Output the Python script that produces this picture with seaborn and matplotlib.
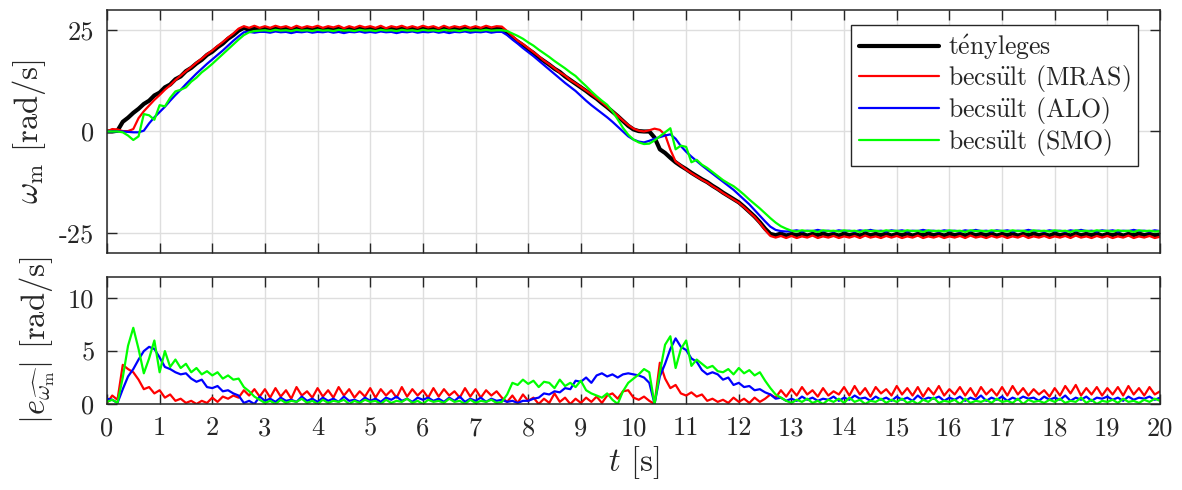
import numpy as np
import pandas as pd
import matplotlib
matplotlib.use("Agg")
import matplotlib.pyplot as plt
import seaborn as sns

# ---------------- data (0.1 s sampling) ----------------
t = np.linspace(0.0, 20.0, 201)

w_actual = [
    0.0, 0.0, 0.2, 2.4, 3.4, 4.6, 5.6, 6.8, 7.6, 8.9,
    9.6, 10.9, 11.6, 12.9, 13.6, 14.9, 15.7, 16.8, 17.7, 18.9,
    19.7, 20.8, 21.7, 22.9, 23.8, 24.9, 25.6, 25.1, 25.5, 25.0,
    25.4, 25.0, 25.5, 25.1, 25.4, 24.9, 25.5, 25.1, 25.4, 25.0,
    25.5, 25.0, 25.4, 25.1, 25.5, 24.9, 25.4, 25.0, 25.5, 25.1,
    25.4, 25.0, 25.5, 24.9, 25.4, 25.1, 25.5, 25.0, 25.4, 25.0,
    25.5, 25.1, 25.4, 24.9, 25.5, 25.0, 25.4, 25.1, 25.5, 25.0,
    25.4, 25.0, 25.5, 25.1, 25.4, 25.2, 24.3, 23.2, 22.2, 21.3,
    20.3, 19.4, 18.3, 17.4, 16.5, 15.5, 14.7, 13.6, 12.7, 11.8,
    10.9, 10.0, 9.0, 8.1, 7.0, 6.0, 4.9, 3.8, 2.6, 1.4,
    0.5, 0.1, 0.0, 0.0, -1.5, -4.4, -5.3, -6.5, -7.6, -8.5,
    -9.3, -10.2, -11.0, -11.8, -12.5, -13.4, -14.2, -15.1, -15.9, -16.7,
    -17.5, -18.6, -19.8, -21.0, -22.4, -24.0, -25.3, -25.6, -25.2, -25.7,
    -25.3, -25.6, -25.2, -25.7, -25.3, -25.6, -25.2, -25.6, -25.3, -25.7,
    -25.2, -25.6, -25.3, -25.7, -25.2, -25.6, -25.3, -25.6, -25.2, -25.7,
    -25.3, -25.6, -25.2, -25.7, -25.3, -25.6, -25.2, -25.6, -25.3, -25.7,
    -25.2, -25.6, -25.3, -25.7, -25.2, -25.6, -25.3, -25.6, -25.2, -25.7,
    -25.3, -25.6, -25.2, -25.7, -25.3, -25.6, -25.2, -25.6, -25.3, -25.7,
    -25.2, -25.6, -25.3, -25.7, -25.2, -25.6, -25.3, -25.6, -25.2, -25.7,
    -25.3, -25.6, -25.2, -25.7, -25.3, -25.6, -25.2, -25.6, -25.3, -25.7,
    -25.4,
]

w_mras = [
    0.0, 0.6, 0.5, 0.1, 0.1, 0.6, 3.3, 5.0, 6.4, 7.8,
    9.0, 10.3, 11.4, 12.7, 13.8, 14.9, 15.9, 17.0, 18.0, 19.1,
    20.0, 21.1, 22.1, 23.2, 24.2, 25.4, 26.0, 25.6, 26.1, 25.6,
    26.0, 25.6, 26.1, 25.7, 26.0, 25.5, 26.1, 25.6, 26.0, 25.7,
    26.1, 25.6, 26.0, 25.7, 26.1, 25.5, 26.0, 25.6, 26.1, 25.7,
    26.0, 25.6, 26.1, 25.5, 26.0, 25.7, 26.1, 25.6, 26.0, 25.6,
    26.1, 25.7, 26.0, 25.5, 26.1, 25.6, 26.0, 25.7, 26.1, 25.6,
    26.0, 25.6, 26.1, 25.7, 26.0, 25.9, 24.8, 23.6, 22.4, 21.6,
    20.6, 19.6, 18.6, 17.5, 16.6, 15.6, 14.6, 13.8, 12.7, 11.9,
    11.0, 10.1, 9.2, 8.2, 7.2, 6.1, 5.0, 3.9, 2.7, 1.6,
    0.7, 0.2, 0.0, 0.3, 0.7, 0.4, -0.8, -4.5, -7.4, -8.4,
    -9.4, -10.3, -11.1, -11.9, -12.6, -13.5, -14.3, -15.2, -16.0, -16.8,
    -17.6, -18.7, -19.9, -21.1, -22.6, -24.3, -25.8, -26.2, -25.8, -26.3,
    -25.8, -26.3, -25.9, -26.2, -25.7, -26.3, -25.9, -26.2, -25.8, -26.3,
    -25.9, -26.2, -25.8, -26.3, -25.7, -26.2, -25.9, -26.3, -25.8, -26.2,
    -25.8, -26.3, -25.9, -26.2, -25.7, -26.3, -25.9, -26.2, -25.8, -26.3,
    -25.9, -26.2, -25.8, -26.3, -25.7, -26.2, -25.9, -26.3, -25.8, -26.2,
    -25.8, -26.3, -25.9, -26.2, -25.7, -26.3, -25.9, -26.2, -25.8, -26.3,
    -25.9, -26.2, -25.8, -26.3, -25.7, -26.2, -25.9, -26.3, -25.8, -26.2,
    -25.8, -26.3, -25.9, -26.2, -25.7, -26.3, -25.9, -26.2, -25.8, -26.3,
    -26.0,
]

w_alo = [
    0.0, 0.0, 0.0, 0.0, -0.1, -0.2, -0.2, 0.2, 2.0, 3.5,
    4.8, 6.1, 7.6, 9.0, 10.3, 11.7, 13.0, 14.3, 15.5, 16.7,
    17.8, 18.9, 20.0, 21.2, 22.4, 23.5, 24.5, 24.6, 24.4, 24.6,
    24.6, 24.4, 24.7, 24.5, 24.6, 24.3, 24.6, 24.5, 24.7, 24.4,
    24.6, 24.5, 24.7, 24.4, 24.6, 24.3, 24.6, 24.5, 24.7, 24.4,
    24.6, 24.4, 24.7, 24.5, 24.6, 24.3, 24.6, 24.5, 24.7, 24.4,
    24.6, 24.5, 24.7, 24.4, 24.6, 24.3, 24.6, 24.5, 24.7, 24.4,
    24.6, 24.5, 24.7, 24.4, 24.6, 24.6, 23.8, 22.7, 21.7, 20.6,
    19.6, 18.6, 17.5, 16.4, 15.3, 14.2, 13.1, 12.0, 11.0, 10.0,
    8.8, 7.6, 6.5, 5.5, 4.5, 3.5, 2.4, 1.2, 0.0, -1.2,
    -2.0, -2.5, -2.7, -2.3, -1.8, -1.4, -1.0, -0.7, -1.8, -3.6,
    -5.0, -6.2, -7.3, -8.4, -9.4, -10.4, -11.4, -12.4, -13.4, -14.4,
    -15.6, -16.8, -18.0, -19.4, -20.8, -22.2, -23.5, -24.3, -24.6, -24.7,
    -24.6, -24.4, -24.7, -24.5, -24.6, -24.3, -24.6, -24.5, -24.7, -24.4,
    -24.6, -24.5, -24.7, -24.4, -24.6, -24.3, -24.6, -24.5, -24.7, -24.4,
    -24.6, -24.4, -24.7, -24.5, -24.6, -24.3, -24.6, -24.5, -24.7, -24.4,
    -24.6, -24.5, -24.7, -24.4, -24.6, -24.3, -24.6, -24.5, -24.7, -24.4,
    -24.6, -24.4, -24.7, -24.5, -24.6, -24.3, -24.6, -24.5, -24.7, -24.4,
    -24.6, -24.5, -24.7, -24.4, -24.6, -24.3, -24.6, -24.5, -24.7, -24.4,
    -24.6, -24.4, -24.7, -24.5, -24.6, -24.3, -24.6, -24.5, -24.7, -24.4,
    -24.6,
]

w_smo = [
    0.0, 0.0, 0.0, -0.2, -1.0, -2.1, -1.2, 4.3, 4.0, 2.9,
    6.5, 6.2, 8.3, 9.9, 10.3, 10.9, 12.3, 13.3, 14.6, 15.6,
    16.7, 17.9, 19.1, 20.3, 21.5, 22.7, 23.8, 24.5, 24.8, 24.9,
    25.0, 24.8, 25.1, 24.9, 25.0, 24.8, 25.1, 24.9, 25.0, 24.8,
    25.1, 24.9, 25.0, 24.8, 25.1, 24.9, 25.0, 24.8, 25.1, 24.9,
    25.0, 24.8, 25.1, 24.9, 25.0, 24.8, 25.1, 24.9, 25.0, 24.8,
    25.1, 24.9, 25.0, 24.8, 25.1, 24.9, 25.0, 24.8, 25.1, 24.9,
    25.0, 24.9, 25.1, 24.9, 25.0, 25.0, 24.8, 24.2, 23.6, 22.9,
    22.0, 21.2, 20.2, 19.3, 18.4, 17.4, 16.5, 15.6, 14.6, 13.7,
    12.4, 11.2, 9.9, 8.7, 7.6, 6.6, 5.0, 3.0, 0.9, -0.8,
    -2.0, -2.7, -3.1, -3.0, -2.2, -1.2, -0.2, 0.8, -4.4, -3.5,
    -3.8, -7.6, -7.0, -8.2, -9.0, -10.0, -11.0, -12.0, -12.8, -13.5,
    -14.5, -15.6, -16.8, -17.9, -19.0, -20.2, -21.4, -22.5, -23.4, -24.0,
    -24.5, -24.7, -24.4, -24.6, -24.5, -24.8, -24.4, -24.6, -24.5, -24.7,
    -24.4, -24.6, -24.5, -24.8, -24.4, -24.6, -24.5, -24.7, -24.4, -24.6,
    -24.5, -24.7, -24.4, -24.6, -24.5, -24.8, -24.4, -24.6, -24.5, -24.7,
    -24.4, -24.6, -24.5, -24.8, -24.4, -24.6, -24.5, -24.7, -24.4, -24.6,
    -24.5, -24.7, -24.4, -24.6, -24.5, -24.8, -24.4, -24.6, -24.5, -24.7,
    -24.4, -24.6, -24.5, -24.8, -24.4, -24.6, -24.5, -24.7, -24.4, -24.6,
    -24.5, -24.7, -24.4, -24.6, -24.5, -24.8, -24.4, -24.6, -24.5, -24.7,
    -24.6,
]

err_mras = [
    0.1, 0.8, 0.4, 3.7, 3.3, 3.0, 2.3, 1.4, 1.6, 1.0,
    1.3, 0.6, 0.9, 0.3, 0.5, 0.1, 0.3, 0.0, 0.3, 0.1,
    0.6, 0.2, 0.7, 0.5, 0.8, 0.6, 1.3, 0.8, 1.4, 0.7,
    1.4, 0.6, 1.5, 0.7, 1.3, 0.5, 1.6, 0.8, 1.2, 0.6,
    1.5, 0.7, 1.3, 0.6, 1.6, 0.8, 1.4, 0.6, 1.2, 0.7,
    1.5, 0.6, 1.4, 0.8, 1.3, 0.6, 1.6, 0.7, 1.4, 0.8,
    1.3, 0.6, 1.5, 0.7, 1.4, 0.8, 1.2, 0.6, 1.5, 0.7,
    1.4, 0.6, 1.3, 0.8, 1.2, 0.6, 0.2, 0.8, 0.1, 0.9,
    0.3, 0.6, 0.0, 0.5, 0.1, 1.0, 0.2, 0.6, 0.0, 0.5,
    0.1, 0.6, 0.2, 0.7, 0.1, 0.8, 1.0, 0.5, 1.2, 1.3,
    0.6, 0.4, 0.7, 0.3, 0.0, 3.9, 2.4, 1.5, 1.8, 1.0,
    0.8, 1.1, 0.7, 0.9, 0.3, 0.5, 0.2, 0.4, 0.1, 0.6,
    0.2, 0.5, 0.1, 0.6, 0.2, 0.5, 0.9, 0.6, 1.3, 0.7,
    1.4, 0.8, 1.6, 0.9, 1.3, 0.7, 1.5, 0.8, 1.2, 0.9,
    1.6, 0.8, 1.7, 0.9, 1.5, 0.7, 1.6, 1.0, 1.4, 0.8,
    1.7, 0.9, 1.5, 0.8, 1.6, 0.7, 1.5, 0.9, 1.7, 0.8,
    1.4, 0.9, 1.6, 0.8, 1.5, 0.7, 1.6, 0.9, 1.4, 0.8,
    1.6, 0.8, 1.7, 0.9, 1.5, 0.8, 1.4, 0.9, 1.3, 0.7,
    1.5, 0.8, 1.7, 1.0, 1.8, 0.8, 1.5, 0.9, 1.6, 0.8,
    1.5, 0.9, 1.6, 0.8, 1.7, 0.9, 1.5, 0.8, 1.6, 0.9,
    1.2,
]

err_alo = [
    0.5, 0.4, 0.1, 1.4, 2.6, 3.3, 4.2, 5.0, 5.4, 5.2,
    4.4, 3.5, 3.3, 3.0, 2.8, 2.9, 2.4, 2.1, 2.3, 1.6,
    1.5, 1.7, 1.2, 1.3, 1.0, 0.8, 0.1, 0.3, 0.0, 0.7,
    0.3, 0.5, 0.2, 0.6, 0.3, 0.4, 0.2, 0.7, 0.3, 0.5,
    0.2, 0.6, 0.3, 0.5, 0.2, 0.7, 0.3, 0.4, 0.2, 0.6,
    0.3, 0.5, 0.2, 0.6, 0.4, 0.7, 0.3, 0.5, 0.2, 0.6,
    0.4, 0.6, 0.3, 0.5, 0.2, 0.6, 0.3, 0.7, 0.2, 0.5,
    0.3, 0.6, 0.2, 0.5, 0.3, 0.4, 0.2, 0.3, 0.1, 0.3,
    0.3, 0.5, 0.6, 1.0, 0.9, 1.2, 1.1, 1.5, 1.4, 2.2,
    2.1, 2.5, 2.0, 2.7, 2.9, 2.6, 2.8, 2.5, 2.8, 2.9,
    2.8, 2.7, 2.5, 2.0, 0.0, 2.6, 3.8, 5.2, 6.2, 5.4,
    5.1, 4.3, 4.0, 3.2, 2.8, 3.0, 2.8, 2.3, 2.5, 1.8,
    2.0, 1.6, 1.7, 1.3, 1.4, 1.1, 0.9, 0.5, 0.6, 0.3,
    0.5, 0.3, 0.7, 0.4, 0.6, 0.3, 0.5, 0.4, 0.7, 0.3,
    0.6, 0.4, 0.8, 0.5, 0.6, 0.3, 0.7, 0.4, 0.6, 0.3,
    0.7, 0.4, 0.6, 0.3, 0.8, 0.4, 0.6, 0.5, 0.7, 0.3,
    0.6, 0.4, 0.7, 0.3, 0.6, 0.4, 0.8, 0.3, 0.6, 0.4,
    0.7, 0.3, 0.6, 0.4, 0.7, 0.5, 0.6, 0.3, 0.7, 0.4,
    0.6, 0.4, 0.8, 0.3, 0.6, 0.4, 0.7, 0.3, 0.6, 0.5,
    0.7, 0.4, 0.6, 0.3, 0.7, 0.4, 0.6, 0.5, 0.7, 0.4,
    0.6,
]

err_smo = [
    0.2, 0.4, 0.1, 2.5, 5.5, 7.2, 5.2, 2.9, 4.3, 6.0,
    3.0, 5.0, 3.5, 4.2, 3.4, 3.8, 3.0, 3.4, 2.8, 3.1,
    2.7, 3.0, 2.4, 2.7, 2.3, 2.4, 1.6, 1.2, 0.7, 0.4,
    0.1, 0.3, 0.0, 0.4, 0.1, 0.3, 0.2, 0.5, 0.1, 0.3,
    0.0, 0.4, 0.1, 0.3, 0.2, 0.4, 0.0, 0.3, 0.1, 0.4,
    0.2, 0.3, 0.0, 0.4, 0.1, 0.3, 0.2, 0.5, 0.1, 0.3,
    0.0, 0.4, 0.2, 0.3, 0.1, 0.5, 0.2, 0.3, 0.0, 0.4,
    0.1, 0.3, 0.2, 0.4, 0.1, 0.2, 0.9, 2.0, 1.8, 2.3,
    1.9, 2.2, 1.6, 2.1, 2.0, 1.5, 2.3, 1.7, 2.0, 1.6,
    2.2, 1.3, 1.0, 0.8, 0.6, 1.0, 0.4, 0.0, 1.2, 2.0,
    2.4, 2.8, 3.3, 3.0, 0.0, 3.0, 5.6, 6.4, 3.4, 5.2,
    6.0, 3.6, 4.2, 3.8, 3.4, 3.6, 3.1, 3.0, 3.3, 2.8,
    3.4, 2.9, 3.2, 2.7, 3.0, 2.2, 1.5, 0.9, 0.6, 0.3,
    0.1, 0.4, 0.2, 0.5, 0.1, 0.3, 0.0, 0.4, 0.2, 0.5,
    0.1, 0.6, 0.2, 0.4, 0.0, 0.3, 0.2, 0.5, 0.1, 0.4,
    0.2, 0.5, 0.1, 0.3, 0.0, 0.4, 0.2, 0.6, 0.1, 0.3,
    0.2, 0.4, 0.0, 0.5, 0.1, 0.3, 0.2, 0.4, 0.1, 0.5,
    0.2, 0.3, 0.1, 0.5, 0.0, 0.4, 0.2, 0.3, 0.1, 0.4,
    0.2, 0.5, 0.1, 0.3, 0.2, 0.6, 0.1, 0.4, 0.0, 0.3,
    0.2, 0.4, 0.1, 0.5, 0.2, 0.3, 0.1, 0.4, 0.2, 0.5,
    0.3,
]

labels = [r"t$\acute{\mathrm{e}}$nyleges",
          r"becs$\ddot{\mathrm{u}}$lt (MRAS)",
          r"becs$\ddot{\mathrm{u}}$lt (ALO)",
          r"becs$\ddot{\mathrm{u}}$lt (SMO)"]
colors = ["#000000", "#ff0000", "#0000ff", "#00ff00"]
x_ticks = list(range(0, 21))
y_ticks_top = [-25, 0, 25]
y_ticks_bot = [0, 5, 10]

# ---------------- style ----------------
sns.set_theme(style="whitegrid")
plt.rcParams.update({
    "font.family": ["cmr10", "DejaVu Serif"],
    "mathtext.fontset": "cm",
    "axes.unicode_minus": False,
    "axes.formatter.use_mathtext": True,
    "font.size": 19,
    "axes.edgecolor": "#262626",
    "axes.linewidth": 1.1,
    "grid.color": "#dedede",
    "grid.linewidth": 1.0,
    "xtick.direction": "in",
    "ytick.direction": "in",
    "xtick.color": "#262626",
    "ytick.color": "#262626",
    "xtick.labelcolor": "#262626",
    "ytick.labelcolor": "#262626",
    "text.color": "#262626",
    "axes.labelcolor": "#262626",
})

fig = plt.figure(figsize=(11.82, 4.90), dpi=100)
ax1 = fig.add_axes([0.0905, 0.4837, 0.8909, 0.4959])
ax2 = fig.add_axes([0.0905, 0.1755, 0.8909, 0.2592])

top_df = pd.DataFrame({"t": t, "a": w_actual, "m": w_mras, "l": w_alo, "s": w_smo})
bot_df = pd.DataFrame({"t": t, "m": err_mras, "l": err_alo, "s": err_smo})

for key, lab, col, lw in zip(["a", "m", "l", "s"], labels, colors, [3.0, 1.6, 1.6, 1.6]):
    sns.lineplot(data=top_df, x="t", y=key, ax=ax1, color=col, lw=lw, label=lab,
                 estimator=None, sort=False)
for key, col in zip(["m", "l", "s"], colors[1:]):
    sns.lineplot(data=bot_df, x="t", y=key, ax=ax2, color=col, lw=1.6,
                 estimator=None, sort=False, legend=False)

for ax in (ax1, ax2):
    ax.set_xlim(0, 20)
    ax.set_xticks(x_ticks)
    ax.tick_params(axis="both", which="both", direction="in", length=7, width=1.0,
                   top=True, right=True, bottom=True, left=True, labelsize=19)
    ax.tick_params(axis="x", pad=9)
    ax.tick_params(axis="y", pad=9)
    ax.grid(True, which="major")
    for sp in ax.spines.values():
        sp.set_visible(True)
        sp.set_color("#262626")

LABEL_FS = 23.5
ax1.set_ylim(-30, 30)
ax1.set_yticks(y_ticks_top)
ax1.set_yticklabels([str(v) for v in y_ticks_top])
ax1.tick_params(axis="x", labelbottom=False)
ax1.set_xlabel("")
ax1.set_ylabel(r"$\omega_\mathrm{m}$ [rad/s]", fontsize=LABEL_FS, labelpad=8)

ax2.set_ylim(0, 12)
ax2.set_yticks(y_ticks_bot)
ax2.set_yticklabels([str(v) for v in y_ticks_bot])
ax2.set_xticklabels([str(v) for v in x_ticks])
ax2.set_xlabel(r"$t$ [s]", fontsize=LABEL_FS, labelpad=3)
ax2.set_ylabel(r"$|e_{\widehat{\omega_\mathrm{m}}}|$ [rad/s]", fontsize=LABEL_FS, labelpad=8)

fig.align_ylabels([ax1, ax2])

leg = ax1.legend(loc="upper right", bbox_to_anchor=(0.979, 0.94), fontsize=18.5,
                 frameon=True, fancybox=False, framealpha=1.0, edgecolor="#262626",
                 handlelength=3.1, handletextpad=0.35, labelspacing=0.05,
                 borderpad=0.3, borderaxespad=0.0)
leg.get_frame().set_linewidth(1.0)

fig.savefig("out.png", dpi=100)
